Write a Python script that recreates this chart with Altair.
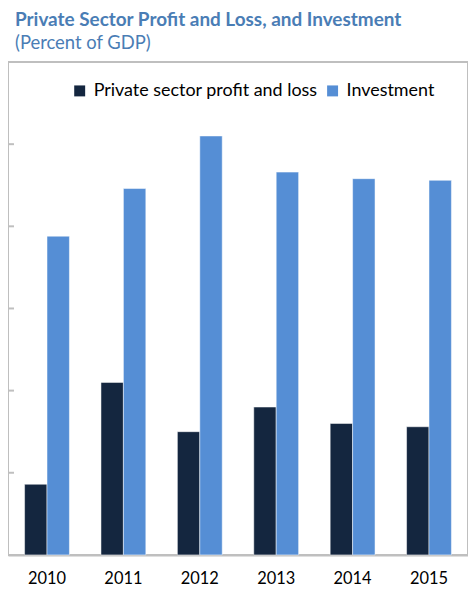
import altair as alt
import pandas as pd

years = ["2010", "2011", "2012", "2013", "2014", "2015"]
series_names = ["Private sector profit and loss", "Investment"]
profit = [4.3, 10.5, 7.5, 9.0, 8.0, 7.8]
investment = [19.4, 22.3, 25.5, 23.3, 22.9, 22.8]
tick_values = [5, 10, 15, 20, 25]
colors = ["#14263f", "#558ed5"]

rows = []
for i, yr in enumerate(years):
    rows.append({"year": yr, "series": series_names[0], "value": profit[i]})
    rows.append({"year": yr, "series": series_names[1], "value": investment[i]})
df = pd.DataFrame(rows)

y_scale = alt.Scale(domain=[0, 30], nice=False, zero=True)
FONT = "Lato"

bars = alt.Chart(df).mark_bar(stroke="white", strokeWidth=0.5).encode(
    x=alt.X("year:N", sort=years,
            scale=alt.Scale(paddingInner=0.413, paddingOuter=0.217),
            axis=alt.Axis(title=None, labelAngle=0, ticks=False, labelPadding=16,
                          labelFontSize=16.5, labelFont=FONT, labelColor="black",
                          domainColor="#bfbfbf", domainWidth=2)),
    xOffset=alt.XOffset("series:N", sort=series_names,
                        scale=alt.Scale(paddingInner=0, paddingOuter=0)),
    y=alt.Y("value:Q", scale=y_scale,
            axis=alt.Axis(title=None, labels=False, ticks=False, grid=False,
                          domainColor="#bfbfbf", domainWidth=2)),
    color=alt.Color("series:N", sort=series_names,
                    scale=alt.Scale(domain=series_names, range=colors),
                    legend=alt.Legend(title=None, orient="none", legendX=63, legendY=20,
                                      direction="horizontal", symbolType="square",
                                      symbolSize=121, symbolStrokeWidth=0,
                                      labelFontSize=18, labelFont=FONT, labelColor="black",
                                      labelLimit=0, labelOffset=5, columnPadding=6)),
)

ticks = alt.Chart(pd.DataFrame({"v": tick_values})).mark_rule(
    color="#bfbfbf", strokeWidth=2
).encode(
    y=alt.Y("v:Q", scale=y_scale, axis=None),
    x=alt.value(0),
    x2=alt.value(6),
)

chart = alt.layer(bars, ticks).properties(
    width=462,
    height=495,
    padding={"left": 0, "top": 53, "right": 0, "bottom": 37},
    autosize=alt.AutoSizeParams(type="none"),
    title=alt.TitleParams(
        text="Private Sector Profit and Loss, and Investment",
        subtitle="(Percent of GDP)",
        anchor="start", dx=8, offset=10,
        font=FONT, fontSize=19, fontWeight="bold", color="#4a7db5",
        subtitleFont=FONT, subtitleFontSize=18.5, subtitleColor="#4a7db5",
        subtitlePadding=4,
    ),
).configure_view(stroke="#bfbfbf", strokeWidth=2)

chart.save("out.html", embed_options={"renderer": "svg", "actions": False})
